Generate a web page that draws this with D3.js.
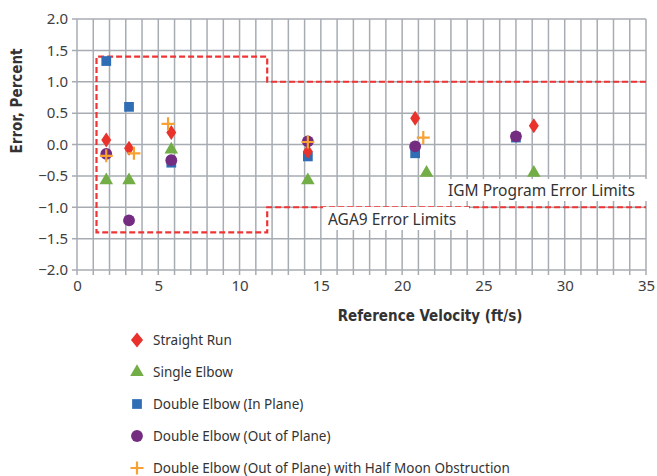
<!DOCTYPE html>
<html>
<head>
<meta charset="utf-8">
<script src="https://cdn.jsdelivr.net/npm/d3@7"></script>
<style>
  body { margin: 0; background: #fff; }
  text { font-family: "Noto Sans", sans-serif; }
</style>
</head>
<body>
<script>
// series data: [velocity ft/s, error %]
const straightRun = [[1.8, 0.07], [3.2, -0.06], [5.8, 0.19], [14.2, -0.11], [20.8, 0.42], [28.1, 0.30]];
const singleElbow = [[1.8, -0.57], [3.2, -0.57], [5.8, -0.08], [14.2, -0.57], [21.5, -0.45], [28.1, -0.45]];
const doubleInPlane = [[1.8, 1.33], [3.2, 0.60], [5.8, -0.29], [14.2, -0.19], [20.8, -0.14], [27.0, 0.11]];
const doubleOutPlane = [[1.8, -0.15], [3.2, -1.21], [5.8, -0.25], [14.2, 0.05], [20.8, -0.03], [27.0, 0.13]];
const halfMoon = [[1.8, -0.18], [3.5, -0.14], [5.6, 0.33], [14.2, 0.04], [21.3, 0.11]];

const seriesNames = ["Straight Run", "Single Elbow", "Double Elbow (In Plane)",
  "Double Elbow (Out of Plane)", "Double Elbow (Out of Plane) with Half Moon Obstruction"];

// error limit outline (dashed)
const limitPath = [[35, 1.0], [11.7, 1.0], [11.7, 1.4], [1.2, 1.4], [1.2, -1.4], [11.7, -1.4], [11.7, -1.0], [35, -1.0]];

const xTicks = [0, 5, 10, 15, 20, 25, 30, 35];
const yTicks = [-2.0, -1.5, -1.0, -0.5, 0.0, 0.5, 1.0, 1.5, 2.0];

const width = 657, height = 476;
const svg = d3.select("body").append("svg").attr("width", width).attr("height", height);

const x = d3.scaleLinear().domain([0, 35]).range([77, 646]);
const y = d3.scaleLinear().domain([-2, 2]).range([270, 19]);

const gridColor = "#a7acb3";

// vertical grid every 1 ft/s
svg.append("g").selectAll("line").data(d3.range(0, 36))
  .enter().append("line")
  .attr("x1", d => x(d)).attr("x2", d => x(d))
  .attr("y1", y(2)).attr("y2", y(-2) + 5)
  .attr("stroke", gridColor).attr("stroke-width", 1.5);

// horizontal grid
svg.append("g").selectAll("line").data(yTicks)
  .enter().append("line")
  .attr("x1", x(0) - 5).attr("x2", x(35))
  .attr("y1", d => y(d)).attr("y2", d => y(d))
  .attr("stroke", gridColor).attr("stroke-width", 1.5);

// axes labels
const xAxis = svg.append("g").attr("transform", `translate(0,${y(-2)})`)
  .call(d3.axisBottom(x).tickValues(xTicks).tickSize(0).tickPadding(10).tickFormat(d3.format("d")));
const yAxis = svg.append("g").attr("transform", `translate(${x(0)},0)`)
  .call(d3.axisLeft(y).tickValues(yTicks).tickSize(0).tickPadding(9).tickFormat(d3.format(".1f")));
[xAxis, yAxis].forEach(a => {
  a.select(".domain").remove();
  a.selectAll("text").attr("font-size", 15).attr("fill", "#404040")
    .style("font-family", "'Noto Sans', sans-serif");
});

// error limits
svg.append("path")
  .attr("d", d3.line().x(d => x(d[0])).y(d => y(d[1]))(limitPath))
  .attr("fill", "none").attr("stroke", "#ee3535").attr("stroke-width", 2.2)
  .attr("stroke-dasharray", "6,3");

// limit labels with white boxes
const labels = [
  { text: "IGM Program Error Limits", x: 443, y: 179, w: 206, h: 22 },
  { text: "AGA9 Error Limits", x: 323, y: 207, w: 146, h: 23 }
];
labels.forEach(l => {
  svg.append("rect").attr("x", l.x).attr("y", l.y).attr("width", l.w).attr("height", l.h).attr("fill", "#fff");
  svg.append("text").attr("x", l.x + 5).attr("y", l.y + l.h - 5)
    .attr("font-size", 15.5).attr("fill", "#333").text(l.text);
});

// markers
const colors = ["#e8322b", "#72ad45", "#2f6db4", "#742c80", "#f7a133"];
const symbols = [d3.symbolDiamond, d3.symbolTriangle, d3.symbolSquare, d3.symbolCircle, d3.symbolCross];
const sizes = [65, 80, 95, 110, 0];

const drawMarker = (g, i, cx, cy, sx) => {
  if (i === 4) {
    g.append("path")
      .attr("d", `M${cx - 6.5},${cy}H${cx + 6.5}M${cx},${cy - 6.5}V${cy + 6.5}`)
      .attr("stroke", colors[i]).attr("stroke-width", 2.2).attr("fill", "none");
  } else {
    let s = d3.symbol().type(symbols[i]).size(sizes[i]);
    g.append("path").attr("d", s()).attr("fill", colors[i])
      .attr("transform", `translate(${cx},${cy}) scale(${i === 0 ? sx : 1},1)`);
  }
};

const allSeries = [straightRun, singleElbow, doubleInPlane, doubleOutPlane, halfMoon];
const drawOrder = [2, 1, 0, 3, 4];
const marks = svg.append("g");
drawOrder.forEach(i => {
  allSeries[i].forEach(d => drawMarker(marks, i, x(d[0]), y(d[1]), 1.15));
});

// axis titles
svg.append("text").attr("x", 430).attr("y", 321).attr("text-anchor", "middle")
  .attr("font-size", 15).attr("font-weight", "bold").attr("fill", "#333")
  .style("font-family", "'DejaVu Sans Condensed', sans-serif")
  .text("Reference Velocity (ft/s)");
svg.append("text").attr("transform", "translate(22,101) rotate(-90)").attr("text-anchor", "middle")
  .attr("font-size", 15).attr("font-weight", "bold").attr("fill", "#333")
  .style("font-family", "'DejaVu Sans Condensed', sans-serif")
  .text("Error, Percent");

// legend
const legend = svg.append("g");
seriesNames.forEach((name, i) => {
  const ly = 340 + i * 32;
  drawMarker(legend, i, 137, ly, 1.4);
  legend.append("text").attr("x", 153).attr("y", ly + 5)
    .attr("font-size", 13.5).attr("fill", "#333").text(name);
});
</script>
</body>
</html>
